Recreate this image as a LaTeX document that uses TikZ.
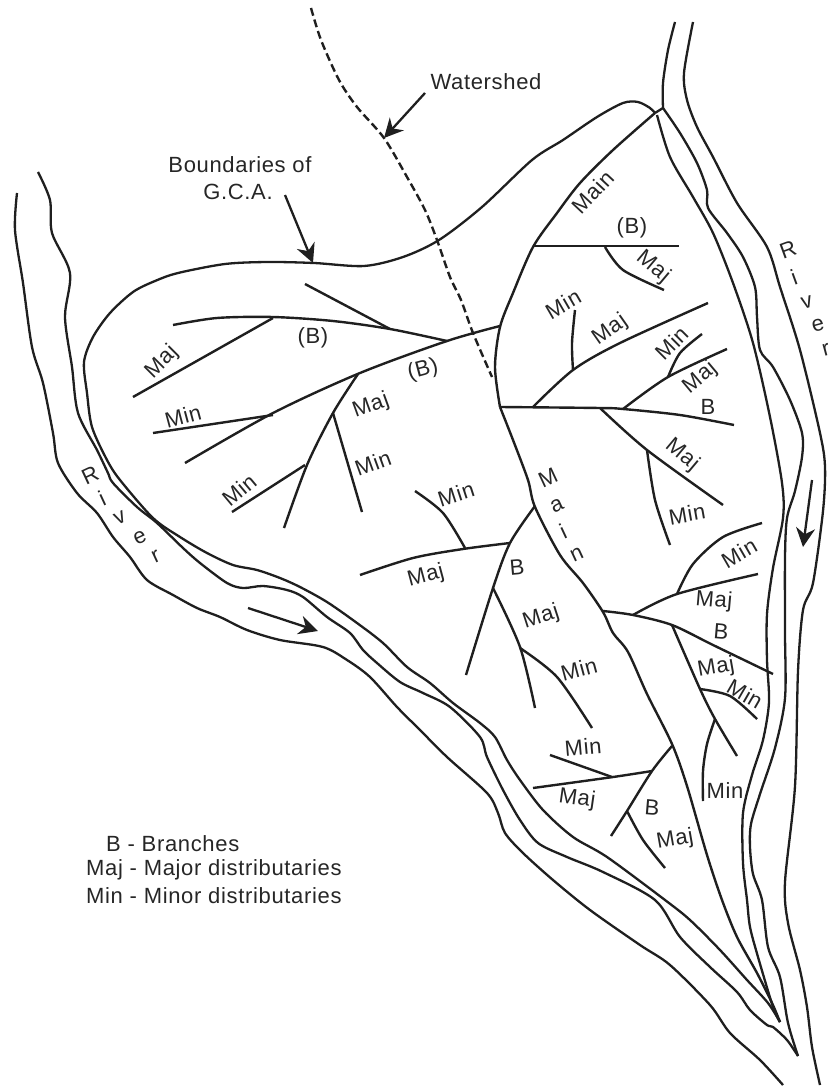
\documentclass[tikz,border=0pt]{standalone}
\usepackage{fontspec}
\setmainfont{Liberation Sans}[LetterSpace=3]
\usepackage{tikz}
\usetikzlibrary{arrows.meta}

\begin{document}
\begin{tikzpicture}[
    x=1pt, y=-1pt,
    bank/.style={line width=2.3pt, color=black!88, line join=round},
    canal/.style={line width=2.4pt, color=black!88, line join=round},
    wshed/.style={line width=2.4pt, color=black!88, dash pattern=on 8pt off 4pt},
    arrow/.style={-{Stealth[length=19pt,width=19pt]}, line width=2.3pt, color=black!88},
    lbl/.style={inner sep=0pt, font=\fontsize{22}{24}\selectfont, text=black!85},
]
\useasboundingbox (0,0) rectangle (827,1086);

% River on the right
\draw[bank] plot[smooth] coordinates {(693,22) (684,73) (687,100) (697,127) (713,157) (737,203) (767,247) (780,287) (800,350) (820,433) (825,467) (823,511) (813,583) (803,610) (798,671) (795,786) (785,882) (788,923) (800,970) (807,1007) (812,1047) (820,1085)};
\draw[bank] plot[smooth] coordinates {(675,22) (668,50) (663,83) (663,108)};
\draw[bank] plot[smooth] coordinates {(663,108) (680,133) (697,163) (707,190) (708,208) (727,233) (743,257) (755,287) (757,317) (760,350) (773,367) (790,400) (802,433) (802,457) (795,491) (787,518) (785,557) (785,633) (785,698) (775,748) (760,794) (751,824) (750,847) (753,874) (762,900) (768,947) (780,977) (788,1023) (798,1056)};
\draw[bank] plot[smooth] coordinates {(657,115) (670,157) (693,197) (713,233) (733,283) (753,343) (770,417) (782,483) (783,518) (773,568) (767,614) (767,660) (769,702) (763,740) (752,775) (743,813) (743,863) (747,900) (750,927) (758,957) (773,1007) (780,1022)};
\draw[bank] (655,113) -- (663,108);

% River on the left
\draw[bank] plot[smooth] coordinates {(17,193) (15,230) (23,283) (32,347) (43,383) (53,433) (58,463) (77,493) (97,513) (113,537) (130,557) (147,580) (173,595) (197,608) (220,617) (247,630) (280,640) (323,647) (347,660) (370,677) (397,707) (420,730) (447,757) (487,793) (498,813) (505,833) (523,853) (553,880) (590,910) (640,945) (670,965) (710,1005) (730,1033) (760,1060) (783,1085)};
\draw[bank] plot[smooth] coordinates {(38,172) (50,200) (52,233) (70,273) (65,317) (72,367) (78,413) (97,450) (108,473) (113,483) (137,507) (157,523) (183,548) (200,563) (227,583) (243,588) (263,586) (287,590) (303,597) (327,617) (350,633) (363,650) (377,663) (400,682) (423,693) (450,707) (480,737) (487,757) (503,790) (520,820) (538,843) (567,857) (603,872) (655,900) (680,937) (710,967) (737,992) (750,1010) (767,1025) (773,1027) (787,1040) (798,1056)};

% Boundary of the area, running on into the left bank
\draw[bank] plot[smooth] coordinates {(655,113) (650,108) (638,102) (623,103) (597,117) (563,140) (532,160) (482,207) (439,240) (403,257) (364,266) (314,263) (268,262) (225,264) (178,273) (155,281) (133,292) (110,313) (93,337) (84,362) (87,393) (92,427) (107,460) (120,480) (153,518) (180,537) (207,553) (233,565) (257,570) (280,578) (300,587) (327,602) (357,623) (383,643) (407,667) (430,683) (453,703) (480,723) (495,737) (507,760) (520,780) (543,810) (573,837) (607,857) (665,900) (690,920) (720,950) (747,980) (768,1003) (780,1022)};

% Watershed
\draw[wshed] plot[smooth] coordinates {(311,8) (321,40) (339,80) (357,107) (384,138) (407,177) (425,210) (437,240) (450,277) (461,300) (473,333) (492,377)};

% Main
\draw[canal] plot[smooth] coordinates {(655,113) (613,150) (580,183) (557,213) (533,247) (513,293) (500,327) (495,367) (500,407)};
\draw[canal] plot[smooth] coordinates {(500,407) (513,440) (528,480) (535,507) (560,555) (583,583) (603,612) (613,633) (628,652) (647,694) (672,744) (687,786) (707,855) (722,900) (737,937) (757,973) (772,1003) (780,1022)};

% Branches on the upper left
\draw[canal] plot[smooth] coordinates {(173,325) (217,318) (273,317) (333,321) (390,329) (447,341)};
\draw[canal] (305,284) -- (390,329);
\draw[canal] (133,397) -- (273,318);
\draw[canal] plot[smooth] coordinates {(500,326) (447,341) (360,373) (273,413) (185,463)};
\draw[canal] (153,433) -- (273,415);
\draw[canal] plot[smooth] coordinates {(358,374) (333,413) (307,465) (284,528)};
\draw[canal] (232,512) -- (305,465);
\draw[canal] (333,413) -- (362,512);
\draw[canal] plot[smooth] coordinates {(415,491) (443,513) (465,548)};

% Branches in the middle
\draw[canal] plot[smooth] coordinates {(360,575) (413,558) (463,549) (510,543)};
\draw[canal] plot[smooth] coordinates {(535,506) (510,543) (493,588) (466,675)};
\draw[canal] plot[smooth] coordinates {(493,588) (520,647) (535,708)};
\draw[canal] plot[smooth] coordinates {(520,648) (557,677) (592,728)};

% Branches at the bottom
\draw[canal] plot[smooth] coordinates {(672,746) (652,771) (627,811) (611,836)};
\draw[canal] plot[smooth] coordinates {(652,771) (613,777) (533,788)};
\draw[canal] (550,755) -- (612,777);
\draw[canal] plot[smooth] coordinates {(627,811) (643,840) (665,868)};

% Branches on the lower right
\draw[canal] plot[smooth] coordinates {(603,611) (633,615) (672,625) (713,645) (773,674)};
\draw[canal] plot[smooth] coordinates {(633,615) (677,594) (758,574)};
\draw[canal] plot[smooth] coordinates {(677,594) (693,564) (723,537) (762,523)};
\draw[canal] plot[smooth] coordinates {(672,625) (700,689) (715,719) (737,756)};
\draw[canal] plot[smooth] coordinates {(700,689) (730,696) (757,719)};
\draw[canal] plot[smooth] coordinates {(715,719) (707,744) (703,771) (703,801)};

% Branches on the upper right
\draw[canal] (534,246) -- (679,246);
\draw[canal] plot[smooth] coordinates {(605,247) (623,270) (664,290)};
\draw[canal] plot[smooth] coordinates {(533,407) (573,370) (620,343) (708,303)};
\draw[canal] plot[smooth] coordinates {(573,370) (572,343) (575,310)};
\draw[canal] plot[smooth] coordinates {(500,407) (600,408) (623,409) (680,415) (734,425)};
\draw[canal] plot[smooth] coordinates {(623,409) (668,377) (727,349)};
\draw[canal] plot[smooth] coordinates {(668,377) (680,353) (702,334)};
\draw[canal] plot[smooth] coordinates {(600,408) (647,450) (723,505)};
\draw[canal] plot[smooth] coordinates {(647,450) (655,500) (670,545)};

% Arrows
\coordinate (wsfrom) at (425,93);
\coordinate (wsto) at (384,138);
\coordinate (gcafrom) at (285,195);
\coordinate (gcato) at (313,263);
\coordinate (lrfrom) at (248,608);
\coordinate (lrto) at (318,631);
\coordinate (rrfrom) at (812,480);
\coordinate (rrto) at (803,547);
\draw[arrow] (wsfrom) -- (wsto);
\draw[arrow] (gcafrom) -- (gcato);
\draw[arrow] (lrfrom) -- (lrto);
\draw[arrow] (rrfrom) -- (rrto);

% Callouts
\node[lbl] (wstext) at (486,82) {Watershed};
\node[lbl] (gcatext) at (240,165) {Boundaries of};
\node[lbl] (gcatext2) at (238,192) {G.C.A.};

% Canal labels
\node[lbl, rotate=47] (m1) at (593,192) {Main};
\node[lbl] (b1) at (632,228) {(B)};
\node[lbl, rotate=-40] (j1) at (653,267) {Maj};
\node[lbl, rotate=30] (n1) at (563,304) {Min};
\node[lbl, rotate=35] (j2) at (610,330) {Maj};
\node[lbl, rotate=45] (n2) at (672,343) {Min};
\node[lbl, rotate=40] (j3) at (700,378) {Maj};
\node[lbl] (b2) at (708,407) {B};
\node[lbl, rotate=-40] (j4) at (682,455) {Maj};
\node[lbl, rotate=10] (n3) at (687,514) {Min};
\node[lbl, rotate=45] (j5) at (162,362) {Maj};
\node[lbl] (b3) at (313,338) {(B)};
\node[lbl, rotate=15] (b4) at (423,370) {(B)};
\node[lbl, rotate=15] (n4) at (183,416) {Min};
\node[lbl, rotate=20] (j6) at (371,406) {Maj};
\node[lbl, rotate=20] (n5) at (373,463) {Min};
\node[lbl, rotate=40] (n6) at (239,490) {Min};
\node[lbl, rotate=18] (n7) at (456,494) {Min};
\node[lbl, rotate=15] (j7) at (426,576) {Maj};
\node[lbl, rotate=5] (b5) at (517,567) {B};
\node[lbl, rotate=18] (j8) at (541,617) {Maj};
\node[lbl, rotate=15] (n8) at (579,669) {Min};
\node[lbl, rotate=5] (n9) at (583,747) {Min};
\node[lbl, rotate=-8] (j9) at (577,799) {Maj};
\node[lbl, rotate=-5] (b6) at (652,808) {B};
\node[lbl, rotate=10] (j10) at (675,840) {Maj};
\node[lbl] (n10) at (725,791) {Min};
\node[lbl, rotate=-30] (n11) at (745,694) {Min};
\node[lbl, rotate=10] (j11) at (716,668) {Maj};
\node[lbl, rotate=-5] (b7) at (721,632) {B};
\node[lbl, rotate=-5] (j12) at (714,601) {Maj};
\node[lbl, rotate=30] (n12) at (739,553) {Min};

% Main, down the canal
\node[lbl, rotate=25] (ma) at (548,478) {M};
\node[lbl, rotate=25] (mb) at (557,506) {a};
\node[lbl, rotate=25] (mc) at (563,531) {i};
\node[lbl, rotate=25] (md) at (577,555) {n};

% River, left
\node[lbl, rotate=25] (ra) at (90,475) {R};
\node[lbl, rotate=25] (rb) at (102,498) {i};
\node[lbl, rotate=25] (rc) at (120,518) {v};
\node[lbl, rotate=25] (rd) at (140,538) {e};
\node[lbl, rotate=25] (re) at (156,557) {r};

% River, right
\node[lbl, rotate=20] (sa) at (788,250) {R};
\node[lbl, rotate=20] (sb) at (794,277) {i};
\node[lbl, rotate=15] (sc) at (807,302) {v};
\node[lbl, rotate=15] (sd) at (818,325) {e};
\node[lbl, rotate=15] (se) at (826,350) {r};

% Legend
\node[lbl, anchor=west] (leg1) at (106,844) {B - Branches};
\node[lbl, anchor=west] (leg2) at (86,870) {Maj - Major distributaries};
\node[lbl, anchor=west] (leg3) at (86,896) {Min - Minor distributaries};

\end{tikzpicture}
\end{document}
